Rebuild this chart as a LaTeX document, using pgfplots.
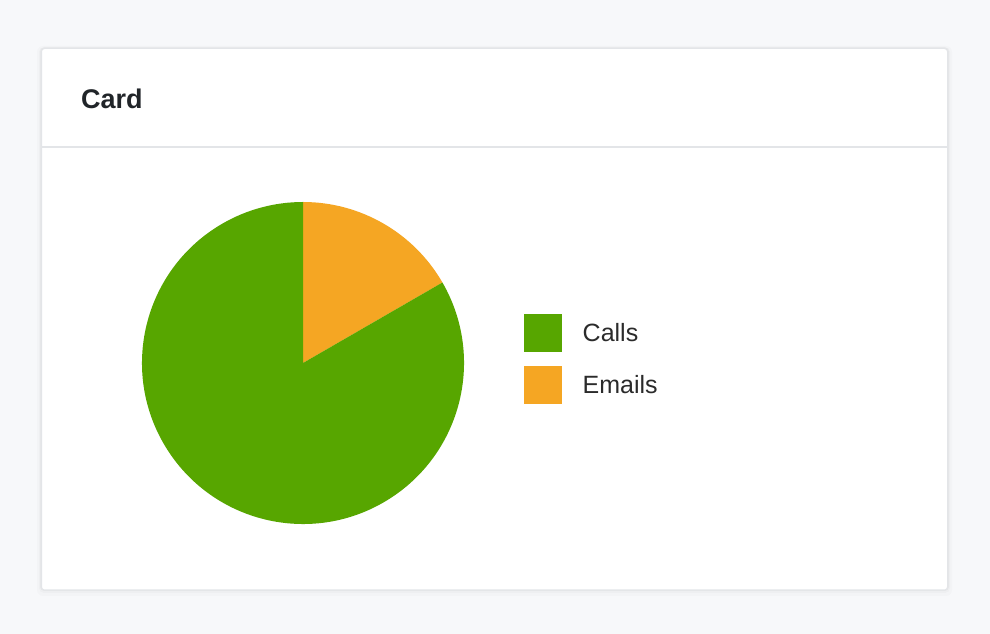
\documentclass[border=0pt]{standalone}
\usepackage{pgfplots}
\pgfplotsset{compat=1.18}
\usepackage{pgfplotstable}
\usepackage{fontspec}
\setmainfont{Liberation Sans}
\definecolor{callsgreen}{HTML}{57A600}
\definecolor{emailorange}{HTML}{F5A623}
\definecolor{bg}{HTML}{F7F8FA}
\definecolor{cardborder}{HTML}{E3E5E8}
\definecolor{titlecol}{HTML}{212529}
\definecolor{textcol}{HTML}{2B2B2B}
\pgfplotstableread{
label value
Calls 83.333
Emails 16.667
}\piedata
\begin{document}
\begin{tikzpicture}
\pgfplotstablegetelem{0}{value}\of\piedata \let\vcalls\pgfplotsretval
\pgfplotstablegetelem{1}{value}\of\piedata \let\vemails\pgfplotsretval
\pgfmathsetmacro\total{\vcalls+\vemails}
\pgfmathsetmacro\aE{360*\vemails/\total}
\pgfmathsetmacro\aS{90-\aE}
\begin{axis}[
  scale only axis, width=990pt, height=634pt,
  xmin=0, xmax=990, ymin=0, ymax=634,
  hide axis, clip=false,
]
\fill[bg] (axis cs:0,0) rectangle (axis cs:990,634);
% shadow
\fill[black, opacity=0.015, rounded corners=6pt] (axis cs:37,38) rectangle (axis cs:952,588);
\fill[black, opacity=0.02, rounded corners=5pt] (axis cs:39,41) rectangle (axis cs:950,587);
\fill[black, opacity=0.03, rounded corners=4pt] (axis cs:40,43) rectangle (axis cs:949,586.5);
% card
\filldraw[fill=white, draw=cardborder, line width=1pt, rounded corners=3pt] (axis cs:41.5,44) rectangle (axis cs:947.5,585.5);
\draw[cardborder, line width=1.2pt] (axis cs:42,487) -- (axis cs:947,487);
\node[anchor=base west, inner sep=0, font=\fontsize{27}{32}\selectfont\bfseries, text=titlecol] at (axis cs:81,525) {Card};
% pie
\fill[emailorange] (axis cs:303,271) -- ++(90:161pt) arc[start angle=90, end angle=\aS, radius=161pt] -- cycle;
\fill[callsgreen] (axis cs:303,271) -- ++(\aS:161pt) arc[start angle=\aS, end angle=-270, radius=161pt] -- cycle;
% legend
\fill[callsgreen] (axis cs:524,282) rectangle (axis cs:562,320);
\fill[emailorange] (axis cs:524,230) rectangle (axis cs:562,268);
\node[anchor=base west, inner sep=0, font=\fontsize{25}{30}\selectfont, text=textcol] at (axis cs:582.5,292) {Calls};
\node[anchor=base west, inner sep=0, font=\fontsize{25}{30}\selectfont, text=textcol] at (axis cs:582.5,240) {Emails};
\end{axis}
\end{tikzpicture}
\end{document}
